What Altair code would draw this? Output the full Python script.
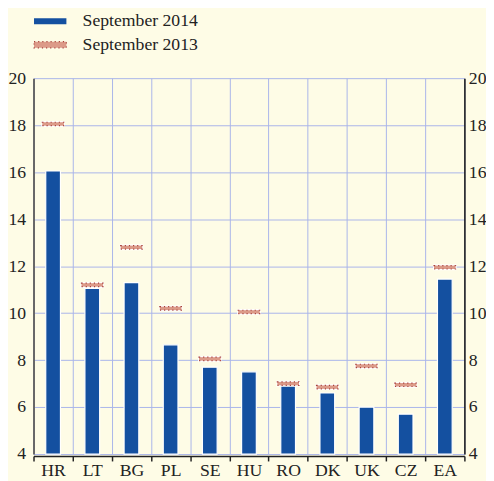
import altair as alt
import pandas as pd

countries = ["HR", "LT", "BG", "PL", "SE", "HU", "RO", "DK", "UK", "CZ", "EA"]
sep2014 = [16.05, 11.05, 11.3, 8.65, 7.7, 7.5, 6.9, 6.6, 6.0, 5.7, 11.45]
sep2013 = [18.05, 11.2, 12.8, 10.2, 8.05, 10.05, 7.0, 6.85, 7.75, 6.95, 11.95]
series = ["September 2014", "September 2013"]

df = pd.DataFrame({"country": countries, "s2014": sep2014, "s2013": sep2013,
                   "lab14": series[0], "lab13": series[1]})

FONT = "Liberation Serif"
FS = 18
BLUE = "#1450a0"
PINK = "#dc9a88"
DARKRED = "#a8403a"
GRID = "#a9b5ea"
TXT = "#222"
SYM = "M-2,-0.38H2V0.38H-2Z"

xenc = alt.X("country:N", sort=countries, title=None,
             scale=alt.Scale(paddingInner=0, paddingOuter=0),
             axis=alt.Axis(labelAngle=0, labelFont=FONT, labelFontSize=FS, labelColor=TXT,
                           domainColor="#222", domainWidth=1.5, tickColor="#222", tickWidth=1.5,
                           tickSize=5, tickBand="extent", bandPosition=0, offset=2,
                           grid=True, gridColor=GRID, gridWidth=1, labelPadding=1))
yscale = alt.Scale(domain=[4, 20], nice=False)

bars = alt.Chart(df).mark_bar(size=15, stroke="white", strokeWidth=1.2).encode(
    x=xenc,
    y=alt.Y("s2014:Q", scale=yscale, title=None,
            axis=alt.Axis(values=list(range(4, 21, 2)), labelFont=FONT, labelFontSize=FS,
                          labelColor=TXT, domainColor="#666", domainWidth=2, ticks=False,
                          gridColor=GRID, gridWidth=1, labelPadding=8)),
    y2=alt.datum(4),
    color=alt.Color("lab14:N", scale=alt.Scale(domain=[series[0]], range=[BLUE]),
                    title=None,
                    legend=alt.Legend(orient="none", legendX=8, legendY=-67, padding=0,
                                      labelFont=FONT, labelFontSize=FS, labelColor=TXT,
                                      symbolType=SYM, symbolSize=272,
                                      symbolStrokeWidth=0, labelOffset=24,
                                      symbolOpacity=1)),
)

tick_bg = alt.Chart(df).mark_tick(size=24, thickness=6, color="white", opacity=1).encode(
    x=alt.X("country:N", sort=countries), y=alt.Y("s2013:Q", scale=yscale))
tick_fg = alt.Chart(df).mark_tick(size=22, thickness=3.5, opacity=1, fill=PINK,
                                  strokeWidth=1.2, strokeDash=[1.2, 3]).encode(
    x=alt.X("country:N", sort=countries), y=alt.Y("s2013:Q", scale=yscale),
    stroke=alt.Stroke("lab13:N", scale=alt.Scale(domain=[series[1]], range=[DARKRED]),
                      title=None,
                      legend=alt.Legend(orient="none", legendX=8, legendY=-43, padding=0,
                                        labelFont=FONT, labelFontSize=FS, labelColor=TXT,
                                        symbolType=SYM, symbolSize=272,
                                        symbolFillColor=PINK, symbolStrokeWidth=1.2,
                                        symbolDash=[1.2, 3], labelOffset=24,
                                        symbolOpacity=1)))

right_axis = alt.Chart(df).mark_tick(opacity=0).encode(
    y=alt.Y("s2013:Q", scale=yscale, title=None,
            axis=alt.Axis(orient="right", values=list(range(4, 21, 2)), labelFont=FONT,
                          labelFontSize=FS, labelColor=TXT, domainColor="#111",
                          domainWidth=1.5, ticks=False, grid=False, labelPadding=4)))

left = alt.layer(bars, tick_bg, tick_fg).resolve_legend(color="independent", stroke="independent")
chart = alt.layer(left, right_axis).resolve_scale(y="independent").properties(
    width=439, height=383, background="#fefce6", padding=0
).configure_view(stroke=None)

chart.save("out.html", embed_options={"renderer": "svg", "actions": False})
